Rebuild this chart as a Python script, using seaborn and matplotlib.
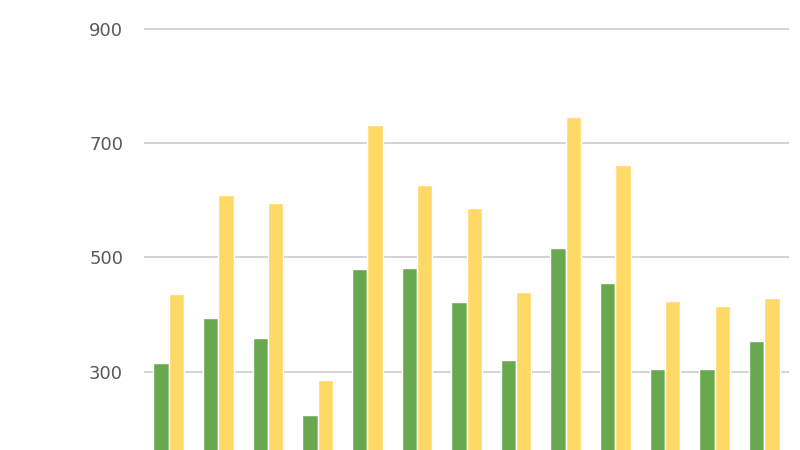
import seaborn as sns
import matplotlib.pyplot as plt
import pandas as pd

# 13 groups, two series
groups = [str(i) for i in range(1, 14)]
green_vals = [316, 393, 359, 224, 480, 482, 421, 320, 516, 455, 305, 305, 354]
yellow_vals = [435, 609, 595, 286, 731, 626, 587, 440, 745, 661, 423, 414, 428]
y_ticks = [300, 500, 700, 900]

df = pd.DataFrame({
    'group': groups * 2,
    'value': green_vals + yellow_vals,
    'series': ['green'] * len(groups) + ['yellow'] * len(groups),
})

sns.set_style('white')
fig = plt.figure(figsize=(8, 4.5), dpi=100)
ax = fig.add_axes([144 / 800, 0, 645 / 800, 1])

sns.barplot(data=df, x='group', y='value', hue='series',
            palette={'green': '#6aa84f', 'yellow': '#ffd966'},
            saturation=1, width=0.62, edgecolor='white', linewidth=1,
            legend=False, ax=ax)

ax.set_xlim(-0.5, len(groups) - 0.5)
ax.set_ylim(163, 950)
ax.set_yticks(y_ticks)
ax.yaxis.grid(True, color='#cccccc', linewidth=1.2)
ax.set_axisbelow(True)
ax.tick_params(axis='y', length=0, pad=15, labelsize=13, labelcolor='#595959')
ax.set_xticks([])
ax.set_xlabel('')
ax.set_ylabel('')
for s in ax.spines.values():
    s.set_visible(False)

fig.savefig('out.png', dpi=100)
